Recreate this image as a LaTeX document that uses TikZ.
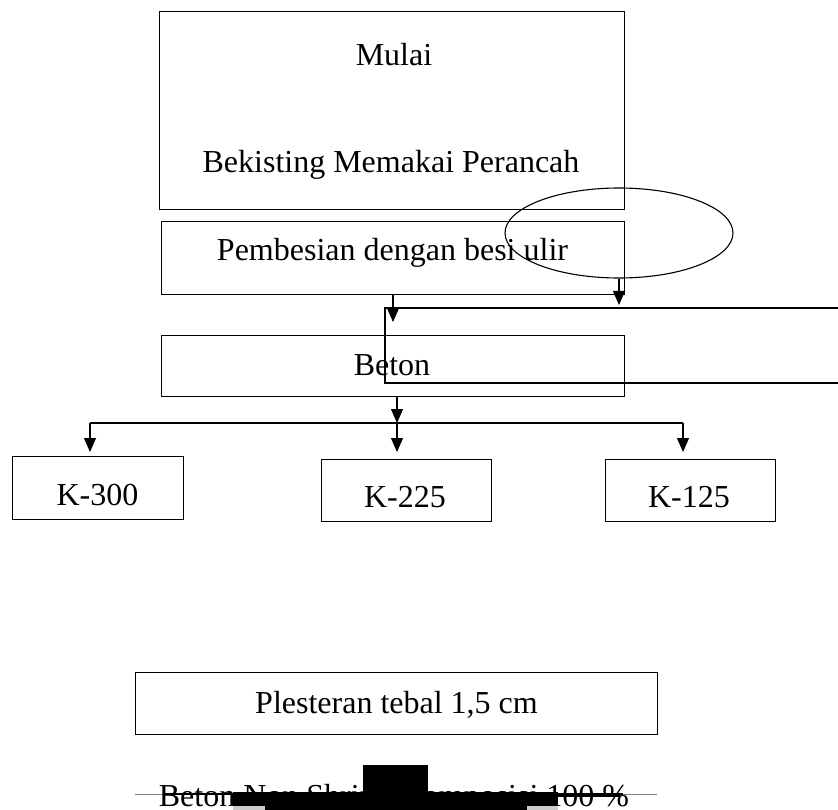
\documentclass[tikz,border=0pt]{standalone}
\usepackage{fontspec}
\setmainfont{Liberation Serif}
\usetikzlibrary{arrows.meta,shapes.geometric}
\begin{document}
\begin{tikzpicture}[x=1pt,y=-1pt,
  line width=1.1pt,
  font=\fontsize{32}{38}\selectfont,
  box/.style={draw,rectangle,inner sep=0pt,anchor=north west},
  lbl/.style={inner sep=0pt,anchor=base},
  arr/.style={-{Triangle[length=14pt,width=12pt]}}]
\useasboundingbox (0,0) rectangle (838,810);
\clip (0,0) rectangle (838,810);

% process boxes
\node[box,minimum width=465pt,minimum height=198pt] (start) at (159,11) {};
\node[lbl] (startA) at (394,66) {Mulai};
\node[lbl] (startB) at (391,173) {Bekisting Memakai Perancah};

\node[box,minimum width=463pt,minimum height=73pt] (pemb) at (161,221) {};
\node[lbl] (pembT) at (392.5,261) {Pembesian dengan besi ulir};

% wide frame running off to the right
\draw (385,308) rectangle (860,383);

\node[box,minimum width=463pt,minimum height=61pt] (beton) at (161,335) {};
\node[lbl] (betonT) at (392,375) {Beton};

\node[box,minimum width=171pt,minimum height=63pt] (k300) at (12,456) {};
\node[lbl] (k300T) at (97.5,505) {K-300};
\node[box,minimum width=170pt,minimum height=62pt] (k225) at (321,459) {};
\node[lbl] (k225T) at (405,507) {K-225};
\node[box,minimum width=170pt,minimum height=62pt] (k125) at (605,459) {};
\node[lbl] (k125T) at (689,507) {K-125};

\node[box,minimum width=522pt,minimum height=62pt] (plester) at (135,672) {};
\node[lbl] (plesterT) at (396.5,713) {Plesteran tebal 1,5 cm};

% ellipse over the reinforcement box
\node[draw,ellipse,minimum width=228pt,minimum height=90pt,inner sep=0pt] (ell) at (619,233) {};

% connectors
\coordinate (pembOut) at (393,294);
\coordinate (pembIn) at (393,322);
\draw[arr] (pembOut) -- (pembIn);
\coordinate (ellIn) at (619,305);
\draw[arr] (ell.south) -- (ellIn);

\coordinate (betonOut) at (397,396);
\coordinate (split) at (397,423);
\draw[arr] (betonOut) -- (split);
\coordinate (splitL) at (90,423);
\coordinate (splitR) at (683,423);
\draw (splitL) -- (splitR);
\coordinate (k300In) at (90,452);
\coordinate (k225In) at (397,452);
\coordinate (k125In) at (683,452);
\draw[arr] (splitL) -- (k300In);
\draw[arr] (split) -- (k225In);
\draw[arr] (splitR) -- (k125In);

% struck-through caption with masked parts
\draw[gray,line width=1pt] (135,794) -- (657,794);
\node[lbl] (shrink) at (394,806) {Beton Non Shrink Komposisi 100 \%};
\draw[line width=1.3pt] (163,794) -- (623,794);
\fill[black] (233,792) rectangle (558,806);
\fill[black] (265,806) rectangle (527,810);
\fill[gray!40] (233,806) rectangle (265,810);
\fill[gray!40] (527,806) rectangle (558,810);
\fill[black] (558,793) rectangle (620,797);
\fill[black] (363,765) rectangle (428,810);
\end{tikzpicture}
\end{document}
